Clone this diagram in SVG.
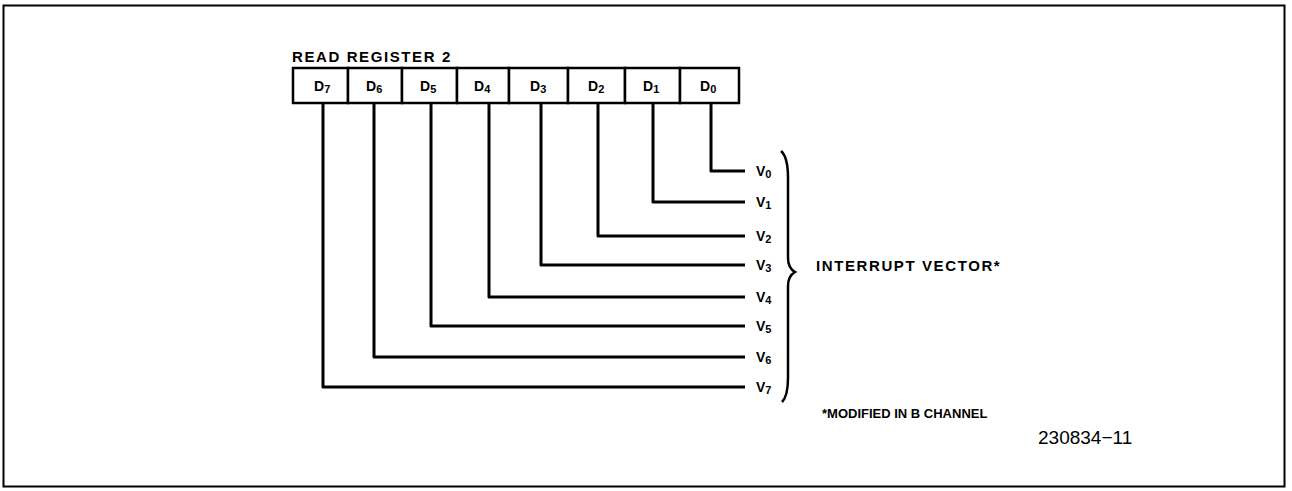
<svg xmlns="http://www.w3.org/2000/svg" width="1292" height="491" viewBox="0 0 1292 491">
<style>
.b{font-family:"Liberation Sans",Arial,sans-serif;font-weight:bold;fill:#000}
.lbl{font-size:14px}
.big{font-size:15px;letter-spacing:1.6px}
.s{font-size:11px}
.ln{fill:none;stroke:#000;stroke-width:3;stroke-linejoin:round}
.cell{fill:#fff;stroke:#000;stroke-width:2.5}
.reg{font-family:"Liberation Sans",Arial,sans-serif;font-size:19px;fill:#000}
</style>
<rect x="0" y="0" width="1292" height="491" fill="#fff"/>
<rect id="frame" x="3.5" y="5.5" width="1281" height="481" fill="none" stroke="#000" stroke-width="2"/>
<text class="b big" x="292" y="62">READ REGISTER 2</text>
<g id="register">
<g id="d7"><rect class="cell" x="293" y="68" width="55" height="35"/><text class="b lbl" x="314" y="91">D<tspan class="s" dy="2">7</tspan></text></g>
<g id="d6"><rect class="cell" x="348" y="68" width="54" height="35"/><text class="b lbl" x="366" y="91">D<tspan class="s" dy="2">6</tspan></text></g>
<g id="d5"><rect class="cell" x="402" y="68" width="55" height="35"/><text class="b lbl" x="420" y="91">D<tspan class="s" dy="2">5</tspan></text></g>
<g id="d4"><rect class="cell" x="457" y="68" width="52" height="35"/><text class="b lbl" x="474" y="91">D<tspan class="s" dy="2">4</tspan></text></g>
<g id="d3"><rect class="cell" x="509" y="68" width="59" height="35"/><text class="b lbl" x="530" y="91">D<tspan class="s" dy="2">3</tspan></text></g>
<g id="d2"><rect class="cell" x="568" y="68" width="57" height="35"/><text class="b lbl" x="588" y="91">D<tspan class="s" dy="2">2</tspan></text></g>
<g id="d1"><rect class="cell" x="625" y="68" width="55" height="35"/><text class="b lbl" x="643" y="91">D<tspan class="s" dy="2">1</tspan></text></g>
<g id="d0"><rect class="cell" x="680" y="68" width="59" height="35"/><text class="b lbl" x="700" y="91">D<tspan class="s" dy="2">0</tspan></text></g>
</g>
<g id="connectors">
<path class="ln" d="M711 103 V171 H745"/>
<path class="ln" d="M653 103 V202 H745"/>
<path class="ln" d="M598 103 V236 H745"/>
<path class="ln" d="M541 103 V265 H745"/>
<path class="ln" d="M489 103 V297 H745"/>
<path class="ln" d="M431 103 V326 H745"/>
<path class="ln" d="M374 103 V357 H745"/>
<path class="ln" d="M323 103 V387 H745"/>
</g>
<g id="vlabels">
<text class="b lbl" x="756" y="176">V<tspan class="s" dy="2">0</tspan></text>
<text class="b lbl" x="756" y="207">V<tspan class="s" dy="2">1</tspan></text>
<text class="b lbl" x="756" y="241">V<tspan class="s" dy="2">2</tspan></text>
<text class="b lbl" x="756" y="270">V<tspan class="s" dy="2">3</tspan></text>
<text class="b lbl" x="756" y="302">V<tspan class="s" dy="2">4</tspan></text>
<text class="b lbl" x="756" y="331">V<tspan class="s" dy="2">5</tspan></text>
<text class="b lbl" x="756" y="362">V<tspan class="s" dy="2">6</tspan></text>
<text class="b lbl" x="756" y="392">V<tspan class="s" dy="2">7</tspan></text>
</g>
<path id="brace" d="M781 151 Q788 157 788 178 L788 258 Q788 268 795 272 Q788 276 788 286 L788 378 Q788 396 782 402" fill="none" stroke="#000" stroke-width="2.5"/>
<text class="b big" x="816" y="271">INTERRUPT VECTOR*</text>
<text class="b" font-size="13" x="822" y="418">*MODIFIED IN B CHANNEL</text>
<text class="reg" x="1038" y="444">230834−11</text>
</svg>
